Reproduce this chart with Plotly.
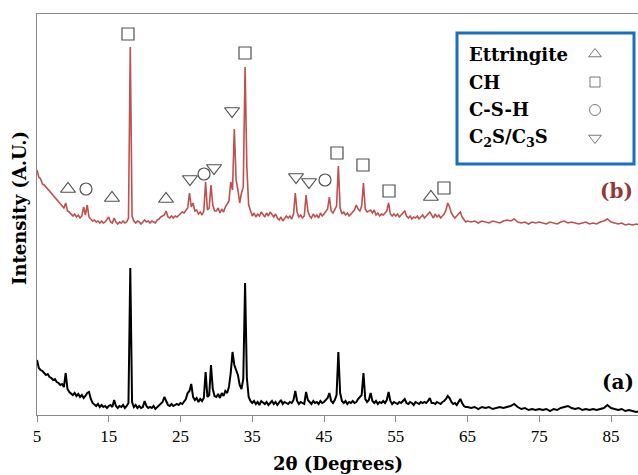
import numpy as np
import plotly.graph_objects as go

# 2θ scan grid: 0.25° steps up to 65°, 0.5° steps beyond
two_theta = np.concatenate([
    np.round(np.arange(5.0, 65.001, 0.25), 2),
    np.round(np.arange(65.5, 89.001, 0.5), 2),
])

# Pattern (a) intensities (A.U.)
int_a = [
    55, 47, 45, 44, 42, 40, 41, 38, 37, 35, 36, 33, 32, 30, 31, 28, 42, 26, 23, 21,      # 5.00-9.75
    20, 22, 19, 21, 18, 20, 17, 19, 22, 23, 16, 12, 10, 9, 11, 8, 10, 8, 9, 7,           # 10.00-14.75
    9, 10, 8, 15, 9, 7, 9, 8, 10, 7, 9, 12, 147, 13, 8, 10, 7, 9, 7, 8,                  # 15.00-19.75
    14, 9, 7, 8, 7, 9, 6, 8, 9, 12, 13, 18, 14, 10, 9, 11, 9, 10, 11, 10,                # 20.00-24.75
    12, 11, 13, 16, 22, 24, 31, 18, 15, 17, 13, 16, 14, 17, 43, 18, 20, 50, 26, 19,      # 25.00-29.75
    18, 21, 17, 22, 19, 24, 22, 28, 42, 63, 50, 45, 40, 30, 26, 36, 132, 37, 18, 14,     # 30.00-34.75
    12, 14, 11, 13, 10, 14, 12, 11, 13, 10, 12, 14, 11, 13, 10, 12, 15, 11, 13, 12,      # 35.00-39.75
    11, 13, 12, 15, 24, 14, 11, 13, 12, 11, 23, 15, 13, 11, 14, 12, 13, 11, 14, 12,      # 40.00-44.75
    13, 15, 17, 22, 14, 12, 15, 20, 63, 22, 14, 12, 14, 11, 13, 12, 14, 12, 13, 16,      # 45.00-49.75
    18, 20, 42, 16, 13, 15, 22, 14, 12, 14, 11, 13, 12, 14, 12, 15, 23, 14, 11, 13,      # 50.00-54.75
    12, 11, 13, 12, 14, 16, 12, 11, 13, 12, 10, 13, 12, 11, 13, 12, 13, 12, 14, 17,      # 55.00-59.75
    12, 12, 11, 13, 12, 11, 13, 14, 16, 19, 17, 13, 11, 12, 10, 13, 16, 12, 9, 8,        # 60.00-64.75
    8,                                                                                    # 65.00
    7, 8, 6, 8, 7, 8, 6, 7,                                                               # 65.5-69.0
    8, 7, 8, 9, 11, 8, 6, 7,                                                              # 69.5-73.0
    5, 6, 5, 6, 5, 6, 4, 6,                                                               # 73.5-77.0
    5, 7, 8, 9, 7, 6, 7, 5,                                                               # 77.5-81.0
    6, 5, 6, 5, 6, 7, 10, 7,                                                              # 81.5-85.0
    6, 5, 6, 4, 5, 4, 3, 4,                                                               # 85.5-89.0
]

# Pattern (b) intensities (A.U.), stacked above (a)
int_b = [
    55, 48, 46, 41, 40, 38, 36, 33, 32, 29, 28, 25, 24, 21, 20, 17, 22, 14, 13, 11,      # 5.00-9.75
    9, 11, 8, 10, 7, 9, 18, 10, 20, 8, 6, 4, 5, 3, 4, 2, 4, 2, 3, 5,                     # 10.00-14.75
    8, 3, 2, 7, 3, 1, 3, 2, 4, 2, 3, 7, 178, 9, 4, 2, 4, 3, 1, 3,                        # 15.00-19.75
    5, 3, 4, 2, 4, 3, 2, 5, 6, 8, 9, 10, 14, 8, 7, 9, 7, 9, 8, 10,                       # 20.00-24.75
    11, 13, 12, 15, 17, 32, 18, 22, 14, 15, 11, 13, 10, 14, 43, 15, 17, 40, 20, 14,      # 25.00-29.75
    14, 17, 12, 16, 13, 18, 21, 24, 43, 35, 96, 45, 35, 22, 32, 38, 158, 57, 20, 13,     # 30.00-34.75
    9, 12, 8, 11, 9, 13, 10, 8, 12, 9, 13, 10, 8, 11, 7, 5, 8, 4, 6, 9,                  # 35.00-39.75
    7, 9, 6, 11, 32, 13, 8, 10, 7, 9, 30, 14, 9, 7, 11, 8, 10, 7, 12, 9,                 # 40.00-44.75
    11, 13, 16, 28, 14, 12, 15, 19, 59, 17, 11, 13, 10, 12, 9, 11, 13, 15, 20, 16,       # 45.00-49.75
    14, 19, 42, 16, 13, 14, 15, 12, 15, 10, 12, 9, 11, 10, 12, 14, 22, 11, 9, 11,        # 50.00-54.75
    9, 11, 8, 10, 12, 14, 9, 7, 9, 6, 8, 7, 9, 6, 8, 10, 7, 9, 12, 13,                   # 55.00-59.75
    10, 7, 11, 8, 10, 7, 9, 11, 15, 22, 18, 12, 9, 7, 9, 11, 13, 8, 5, 3,                # 60.00-64.75
    4,                                                                                    # 65.00
    3, 4, 2, 4, 3, 2, 4, 3,                                                               # 65.5-69.0
    2, 4, 5, 4, 6, 3, 2, 3,                                                               # 69.5-73.0
    1, 3, 2, 3, 2, 1, 3, 2,                                                               # 73.5-77.0
    1, 3, 4, 2, 3, 2, 1, 2,                                                               # 77.5-81.0
    3, 1, 2, 1, 3, 4, 6, 3,                                                               # 81.5-85.0
    2, 1, 2, 0, 1, 0, 1, 0,                                                               # 85.5-89.0
]
OFFSET_B = 190

# Phase identification marks on pattern (b): 2θ and height above (b) baseline
ettringite_theta = [9.32, 15.45, 22.98, 59.9]
ettringite_h = [36, 27, 26, 28]
ch_theta = [17.68, 33.99, 46.81, 50.43, 54.06, 61.72]
ch_h = [191, 172, 72, 60, 34, 37]
csh_theta = [11.83, 28.28, 45.14]
csh_h = [36, 51, 45]
c2s_theta = [26.32, 29.67, 32.18, 41.1, 42.91]
c2s_h = [46, 57, 114, 48, 43]

# Phase key
phase_names = ["Ettringite", "CH", "C-S-H", "C<sub>2</sub>S/C<sub>3</sub>S"]
phase_symbols = ["triangle-up-open", "square-open", "circle-open", "triangle-down-open"]

x_ticks = [5, 15, 25, 35, 45, 55, 65, 75, 85]

assert len(int_a) == len(two_theta) and len(int_b) == len(two_theta)

fig = go.Figure()
fig.add_trace(go.Scatter(x=two_theta, y=int_a, mode="lines",
                         line=dict(color="#000000", width=2.0), hoverinfo="skip"))
fig.add_trace(go.Scatter(x=two_theta, y=np.array(int_b) + OFFSET_B, mode="lines",
                         line=dict(color="#C0504D", width=1.6), hoverinfo="skip"))

mark_color = "#505050"
mark_sizes = [13, 12, 12, 13]
for th, h, sym, size in zip(
    [ettringite_theta, ch_theta, csh_theta, c2s_theta],
    [ettringite_h, ch_h, csh_h, c2s_h],
    phase_symbols, mark_sizes,
):
    fig.add_trace(go.Scatter(
        x=th, y=np.array(h) + OFFSET_B, mode="markers", hoverinfo="skip",
        marker=dict(symbol=sym, size=size, color=mark_color, line=dict(width=1.2, color=mark_color)),
    ))

L, T, B = 37, 14, 415
PW, PH = 638 - L, B - T


def px(xp):
    return (xp - L) / PW


def py(yp):
    return (B - yp) / PH


# Key symbols sit on their own small axis inside the key box (one row per phase)
key_rows = list(range(len(phase_names)))
fig.add_trace(go.Scatter(
    x=[0] * len(key_rows), y=key_rows, mode="markers", hoverinfo="skip",
    xaxis="x2", yaxis="y2",
    marker=dict(symbol=phase_symbols, size=[11, 10, 11, 11], color="#404040",
                line=dict(width=1.0, color="#404040")),
))

row_top, row_bot = 54, 138
serif = "DejaVu Serif"
annotations = [
    dict(text="<b>2θ (Degrees)</b>", x=0.5, y=py(463), xref="paper", yref="paper",
         showarrow=False, xanchor="center", yanchor="middle",
         font=dict(family=serif, size=18, color="#000")),
    dict(text="<b>Intensity (A.U.)</b>", x=px(20), y=py(208), xref="paper", yref="paper",
         showarrow=False, textangle=-90, xanchor="center", yanchor="middle",
         font=dict(family=serif, size=18, color="#000")),
    dict(text="<b>(b)</b>", x=px(616), y=py(191), xref="paper", yref="paper",
         showarrow=False, xanchor="center", yanchor="middle",
         font=dict(family=serif, size=20, color="#953735")),
    dict(text="<b>(a)</b>", x=px(618), y=py(382), xref="paper", yref="paper",
         showarrow=False, xanchor="center", yanchor="middle",
         font=dict(family=serif, size=20, color="#000")),
]
for i, name in enumerate(phase_names):
    yp = row_top + i * (row_bot - row_top) / (len(phase_names) - 1)
    annotations.append(dict(text=f"<b>{name}</b>", x=px(467), y=py(yp), xref="paper", yref="paper",
                            showarrow=False, xanchor="left", yanchor="middle",
                            font=dict(family=serif, size=18, color="#000")))

fig.update_layout(
    width=638, height=475,
    margin=dict(l=L, r=0, t=T, b=475 - B),
    paper_bgcolor="white", plot_bgcolor="white",
    showlegend=False,
    annotations=annotations,
    shapes=[dict(type="rect", xref="paper", yref="paper",
                 x0=px(457), x1=px(634), y0=py(164), y1=py(33),
                 line=dict(color="#1A6FC4", width=3), fillcolor="white", layer="below")],
    xaxis=dict(range=[5, 5 + PW / 7.175], tickvals=x_ticks, ticktext=[str(t) for t in x_ticks],
               showline=True, linecolor="#898989", linewidth=1, mirror=True,
               ticks="outside", ticklen=6, tickcolor="#898989", showgrid=False, zeroline=False,
               tickfont=dict(family="Liberation Serif", size=17, color="#000")),
    yaxis=dict(range=[0, PH], showticklabels=False, showline=True, linecolor="#898989",
               linewidth=1, showgrid=False, zeroline=False, ticks=""),
    xaxis2=dict(domain=[px(585), px(605)], range=[-1, 1], visible=False, anchor="y2"),
    yaxis2=dict(domain=[py(row_bot + 14), py(row_top - 14)], range=[3.5, -0.5],
                visible=False, anchor="x2"),
)

fig.write_html("out.html")
